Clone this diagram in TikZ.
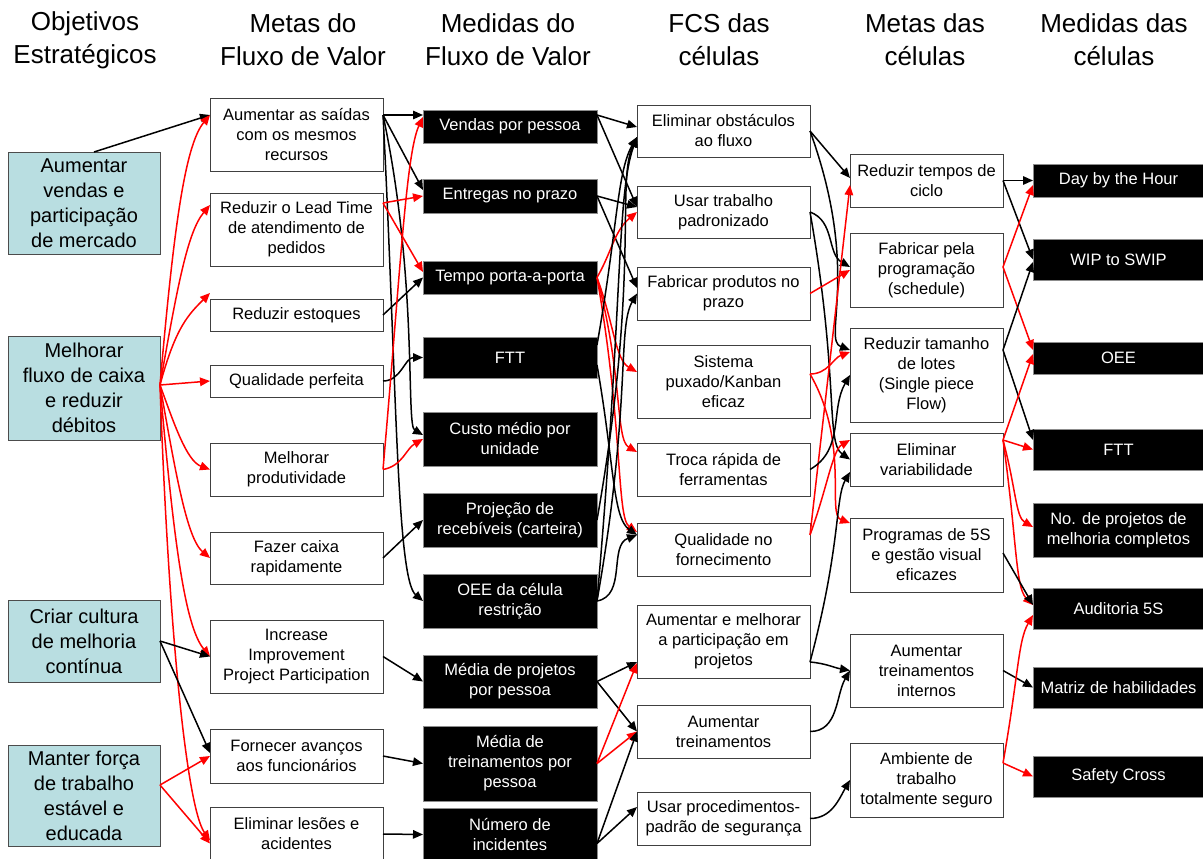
\documentclass[tikz,border=0pt]{standalone}
\usepackage{fontspec}
\setmainfont{Liberation Sans}
\usetikzlibrary{arrows.meta}
\definecolor{objfill}{RGB}{185,222,225}
\definecolor{linkred}{RGB}{255,0,0}

% box given by its left, top, right and bottom edges
\newcommand\bx[7]{\node[#1, minimum width={(#5-#3)*1pt}, minimum height={(#6-#4)*1pt}] (#2) at ({(#3+#5)/2},{(#4+#6)/2}) {#7};}

\tikzset{
  base/.style={rectangle, inner sep=0pt, outer sep=0pt, align=center,
    font=\fontsize{16.5}{20}\selectfont},
  objbox/.style={base, fill=objfill, draw=black!70, line width=0.9pt,
    font=\fontsize{20}{25}\selectfont},
  metabox/.style={base, fill=white, draw=black!75, line width=0.9pt},
  measbox/.style={base, fill=black, draw=black!45, line width=0.9pt, text=white},
  head/.style={align=center, inner sep=0pt, font=\fontsize{26}{33}\selectfont},
  blk/.style={-{Triangle[length=10pt,width=8.5pt]}, line width=1.5pt, black},
  rlk/.style={-{Triangle[length=10pt,width=8.5pt]}, line width=1.5pt, linkred},
}

\begin{document}
\begin{tikzpicture}[x=1pt,y=-1pt]
\useasboundingbox (0,0) rectangle (1203,859);

% column headings
\node[head] (h-obj)  at (85,40)   {Objetivos\\Estratégicos};
\node[head] (h-mfv)  at (303,40)  {Metas do\\Fluxo de Valor};
\node[head] (h-mdfv) at (508,40)  {Medidas do\\Fluxo de Valor};
\node[head] (h-fcs)  at (719,40)  {FCS das\\células};
\node[head] (h-mc)   at (925,40)  {Metas das\\células};
\node[head] (h-mdc)  at (1114,40) {Medidas das\\células};

% strategic objectives
\bx{objbox}{o1}{8}{152}{160}{254}{Aumentar\\vendas e\\participação\\de mercado}
\bx{objbox}{o2}{8}{336}{160}{440}{Melhorar\\fluxo de caixa\\e reduzir\\débitos}
\bx{objbox}{o3}{8}{600}{160}{682}{Criar cultura\\de melhoria\\contínua}
\bx{objbox}{o4}{8}{745}{160}{846}{Manter força\\de trabalho\\estável e\\educada}

% value stream goals
\bx{metabox}{m1}{210}{98}{383}{171}{Aumentar as saídas\\com os mesmos\\recursos}
\bx{metabox}{m2}{210}{193}{383}{266}{Reduzir o Lead Time\\de atendimento de\\pedidos}
\bx{metabox}{m3}{210}{299}{383}{331}{Reduzir estoques}
\bx{metabox}{m4}{210}{365}{383}{397}{Qualidade perfeita}
\bx{metabox}{m5}{210}{443}{383}{496}{Melhorar\\produtividade}
\bx{metabox}{m6}{210}{532}{383}{584}{Fazer caixa\\rapidamente}
\bx{metabox}{m7}{210}{620}{383}{693}{Increase\\Improvement\\Project Participation}
\bx{metabox}{m8}{210}{729}{383}{783}{Fornecer avanços\\aos funcionários}
\bx{metabox}{m9}{210}{807}{383}{861}{Eliminar lesões e\\acidentes}

% value stream measures
\bx{measbox}{v1}{423}{110}{597}{143}{Vendas por pessoa}
\bx{measbox}{v2}{423}{179}{597}{213}{Entregas no prazo}
\bx{measbox}{v3}{423}{261}{597}{294}{Tempo porta-a-porta}
\bx{measbox}{v4}{423}{337}{597}{378}{FTT}
\bx{measbox}{v5}{423}{412}{597}{466}{Custo médio por\\unidade}
\bx{measbox}{v6}{423}{493}{597}{547}{Projeção de\\recebíveis (carteira)}
\bx{measbox}{v7}{423}{574}{597}{628}{OEE da célula\\restrição}
\bx{measbox}{v8}{423}{655}{597}{708}{Média de projetos\\por pessoa}
\bx{measbox}{v9}{423}{726}{597}{801}{Média de\\treinamentos por\\pessoa}
\bx{measbox}{v10}{423}{808}{597}{861}{Número de\\incidentes}

% critical success factors of the cells
\bx{metabox}{f1}{637}{105}{810}{157}{Eliminar obstáculos\\ao fluxo}
\bx{metabox}{f2}{637}{186}{810}{238}{Usar trabalho\\padronizado}
\bx{metabox}{f3}{637}{267}{810}{320}{Fabricar produtos no\\prazo}
\bx{metabox}{f4}{637}{345}{810}{418}{Sistema\\puxado/Kanban\\eficaz}
\bx{metabox}{f5}{637}{443}{810}{496}{Troca rápida de\\ferramentas}
\bx{metabox}{f6}{637}{523}{810}{576}{Qualidade no\\fornecimento}
\bx{metabox}{f7}{637}{605}{810}{678}{Aumentar e melhorar\\a participação em\\projetos}
\bx{metabox}{f8}{637}{705}{810}{758}{Aumentar\\treinamentos}
\bx{metabox}{f9}{637}{792}{810}{845}{Usar procedimentos-\\padrão de segurança}

% cell goals
\bx{metabox}{g1}{850}{154}{1003}{207}{Reduzir tempos de\\ciclo}
\bx{metabox}{g2}{850}{233}{1003}{307}{Fabricar pela\\programação\\(schedule)}
\bx{metabox}{g3}{850}{328}{1003}{422}{Reduzir tamanho\\de lotes\\(Single piece\\Flow)}
\bx{metabox}{g4}{850}{433}{1003}{486}{Eliminar\\variabilidade}
\bx{metabox}{g5}{850}{518}{1003}{592}{Programas de 5S\\e gestão visual\\eficazes}
\bx{metabox}{g6}{850}{634}{1003}{707}{Aumentar\\treinamentos\\internos}
\bx{metabox}{g7}{850}{743}{1003}{817}{Ambiente de\\trabalho\\totalmente seguro}

% cell measures
\bx{measbox}{k1}{1033}{164}{1204}{197}{Day by the Hour}
\bx{measbox}{k2}{1033}{239}{1204}{280}{WIP to SWIP}
\bx{measbox}{k3}{1033}{342}{1204}{374}{OEE}
\bx{measbox}{k4}{1033}{429}{1204}{470}{FTT}
\bx{measbox}{k5}{1033}{503}{1204}{557}{No. de projetos de\\melhoria completos}
\bx{measbox}{k6}{1033}{588}{1204}{629}{Auditoria 5S}
\bx{measbox}{k7}{1033}{667}{1204}{708}{Matriz de habilidades}
\bx{measbox}{k8}{1033}{756}{1204}{797}{Safety Cross}

% objectives -> value stream goals
\draw[blk] ([xshift=10pt]o1.north) -- ([yshift=19.5pt]m1.west);
\draw[rlk] ([yshift=3pt]o2.east) to[out=85,in=230,out distance=150pt,in distance=40pt] ([yshift=19.5pt]m1.west);
\draw[rlk] ([yshift=3pt]o2.east) to[out=80,in=230,out distance=100pt,in distance=35pt] ([yshift=24.5pt]m2.west);
\draw[rlk] ([yshift=3pt]o2.east) to[out=75,in=225,out distance=60pt,in distance=30pt] ([yshift=6pt]m3.north west);
\draw[rlk] ([yshift=3pt]o2.east) -- (m4.west);
\draw[rlk] ([yshift=3pt]o2.east) to[out=-70,in=160,out distance=40pt,in distance=25pt] (m5.west);
\draw[rlk] ([yshift=3pt]o2.east) to[out=-80,in=140,out distance=90pt,in distance=30pt] (m6.west);
\draw[rlk] ([yshift=3pt]o2.east) to[out=-85,in=130,out distance=150pt,in distance=40pt] (m7.west);
\draw[rlk] ([yshift=3pt]o2.east) to[out=-88,in=125,out distance=250pt,in distance=40pt] ([yshift=-6.5pt]m9.west);
\draw[blk] (o3.east) -- (m7.west);
\draw[blk] (o3.east) -- ([yshift=3pt]m8.west);
\draw[rlk] ([yshift=10.5pt]o4.east) -- (m8.west);
\draw[rlk] ([yshift=10.5pt]o4.east) -- ([yshift=-9.5pt]m9.west);

% value stream goals -> value stream measures
\draw[blk] ([yshift=19.5pt]m1.east) -- ([yshift=11.5pt]v1.west);
\draw[blk] ([yshift=19.5pt]m1.east) -- ([yshift=6pt]v2.west);
\draw[blk] ([yshift=19.5pt]m1.east) to[out=-78,in=150,out distance=170pt,in distance=20pt] ([yshift=4pt]v5.west);
\draw[blk] ([yshift=19.5pt]m1.east) to[out=-87,in=140,out distance=260pt,in distance=35pt] (v7.west);
\draw[rlk] ([yshift=26.5pt]m2.east) -- (v2.west);
\draw[rlk] ([yshift=26.5pt]m2.east) -- ([yshift=5.5pt]v3.west);
\draw[blk] (m3.east) -- (v3.west);
\draw[blk] (m4.east) to[out=0,in=180] (v4.west);
\draw[rlk] (m5.east) to[out=85,in=245,out distance=200pt,in distance=40pt] ([yshift=9.5pt]v1.west);
\draw[rlk] (m5.east) to[out=10,in=210] (v5.west);
\draw[blk] (m6.east) -- (v6.west);
\draw[blk] (m7.east) -- (v8.west);
\draw[blk] (m8.east) -- (v9.west);
\draw[blk] (m9.east) -- (v10.west);

% value stream measures -> success factors
\draw[blk] ([yshift=11.5pt]v1.east) -- ([yshift=4pt]f1.west);
\draw[blk] ([yshift=11.5pt]v1.east) -- ([yshift=5pt]f2.west);
\draw[blk] (v2.east) -- ([yshift=5pt]f2.west);
\draw[blk] (v2.east) -- ([yshift=5.5pt]f3.west);
\draw[rlk] (v3.east) to[out=60,in=220] (f2.west);
\draw[rlk] (v3.east) to[out=-70,in=150,out distance=50pt,in distance=25pt] ([yshift=9.5pt]f4.west);
\draw[rlk] (v3.east) to[out=-75,in=150,out distance=100pt,in distance=25pt] ([yshift=17.5pt]f5.west);
\draw[rlk] (v3.east) to[out=-80,in=145,out distance=150pt,in distance=25pt] ([yshift=17.5pt]f6.west);
\draw[blk] ([yshift=12.5pt]v4.east) to[out=80,in=240,out distance=120pt,in distance=40pt] ([yshift=-6pt]f1.west);
\draw[blk] ([yshift=-7.5pt]v4.east) to[out=-80,in=145,out distance=100pt,in distance=30pt] ([yshift=14.5pt]f6.west);
\draw[blk] (v6.east) to[out=80,in=245,out distance=250pt,in distance=50pt] ([yshift=-6pt]f1.west);
\draw[blk] (v7.east) to[out=85,in=250,out distance=300pt,in distance=60pt] ([yshift=-6pt]f1.west);
\draw[blk] (v7.east) to[out=80,in=240,out distance=200pt,in distance=40pt] (f3.west);
\draw[blk] (v7.east) to[out=10,in=200] ([yshift=14.5pt]f6.west);
\draw[blk] (v8.east) -- ([yshift=-20.5pt]f7.west);
\draw[blk] (v8.east) -- (f8.west);
\draw[rlk] (v9.east) -- ([yshift=-21.5pt]f7.west);
\draw[rlk] (v9.east) -- (f8.west);
\draw[blk] ([yshift=-9pt]v10.east) -- (f8.west);
\draw[blk] ([yshift=-9pt]v10.east) -- ([yshift=11.5pt]f9.west);

% success factors -> cell goals
\draw[blk] (f1.east) -- ([yshift=2.5pt]g1.west);
\draw[blk] (f1.east) to[out=-70,in=160,out distance=150pt,in distance=30pt] ([yshift=25pt]g3.west);
\draw[blk] (f2.east) to[out=-20,in=150] ([yshift=3pt]g2.west);
\draw[blk] (f2.east) to[out=-80,in=145,out distance=170pt,in distance=30pt] (g4.west);
\draw[rlk] (f3.east) -- (g2.west);
\draw[rlk] ([yshift=7.5pt]f4.east) to[out=0,in=200] ([yshift=23pt]g3.west);
\draw[rlk] ([yshift=7.5pt]f4.east) to[out=-60,in=160,out distance=80pt,in distance=25pt] ([yshift=32pt]g5.west);
\draw[rlk] ([yshift=14.5pt]f6.east) -- ([yshift=-4.5pt]g1.west);
\draw[rlk] ([yshift=14.5pt]f6.east) to[out=70,in=210,out distance=50pt,in distance=20pt] ([yshift=19.5pt]g4.west);
\draw[blk] (f5.east) to[out=30,in=240] (g3.west);
\draw[blk] ([yshift=-20.5pt]f7.east) to[out=75,in=240,out distance=120pt,in distance=30pt] ([yshift=-12.5pt]g4.west);
\draw[blk] ([yshift=-20.5pt]f7.east) to[out=-5,in=170] (g6.west);
\draw[blk] (f8.east) to[out=0,in=240] (g6.west);
\draw[blk] (f9.east) to[out=0,in=240] (g7.west);

% cell goals -> cell measures
\draw[blk] (g1.east) -- (k1.west);
\draw[blk] (g1.east) -- (k2.west);
\draw[rlk] ([yshift=3pt]g2.east) -- ([yshift=-4.5pt]k1.west);
\draw[rlk] ([yshift=3pt]g2.east) -- ([yshift=8pt]k3.west);
\draw[blk] ([yshift=25pt]g3.east) -- ([yshift=-2.5pt]k2.west);
\draw[blk] ([yshift=25pt]g3.east) -- ([yshift=9.5pt]k4.west);
\draw[rlk] ([yshift=19.5pt]g4.east) -- ([yshift=4pt]k3.west);
\draw[rlk] ([yshift=19.5pt]g4.east) -- (k4.west);
\draw[rlk] ([yshift=19.5pt]g4.east) to[out=-75,in=150,out distance=50pt,in distance=20pt] ([yshift=3pt]k5.west);
\draw[rlk] ([yshift=19.5pt]g4.east) to[out=-82,in=135,out distance=100pt,in distance=25pt] ([yshift=3.5pt]k6.west);
\draw[blk] ([yshift=2pt]g5.east) -- ([yshift=3.5pt]k6.west);
\draw[blk] (g6.east) -- (k7.west);
\draw[rlk] ([yshift=17pt]g7.east) to[out=80,in=240,out distance=90pt,in distance=30pt] ([yshift=-6.5pt]k6.west);
\draw[rlk] ([yshift=17pt]g7.east) -- (k8.west);
\end{tikzpicture}
\end{document}
